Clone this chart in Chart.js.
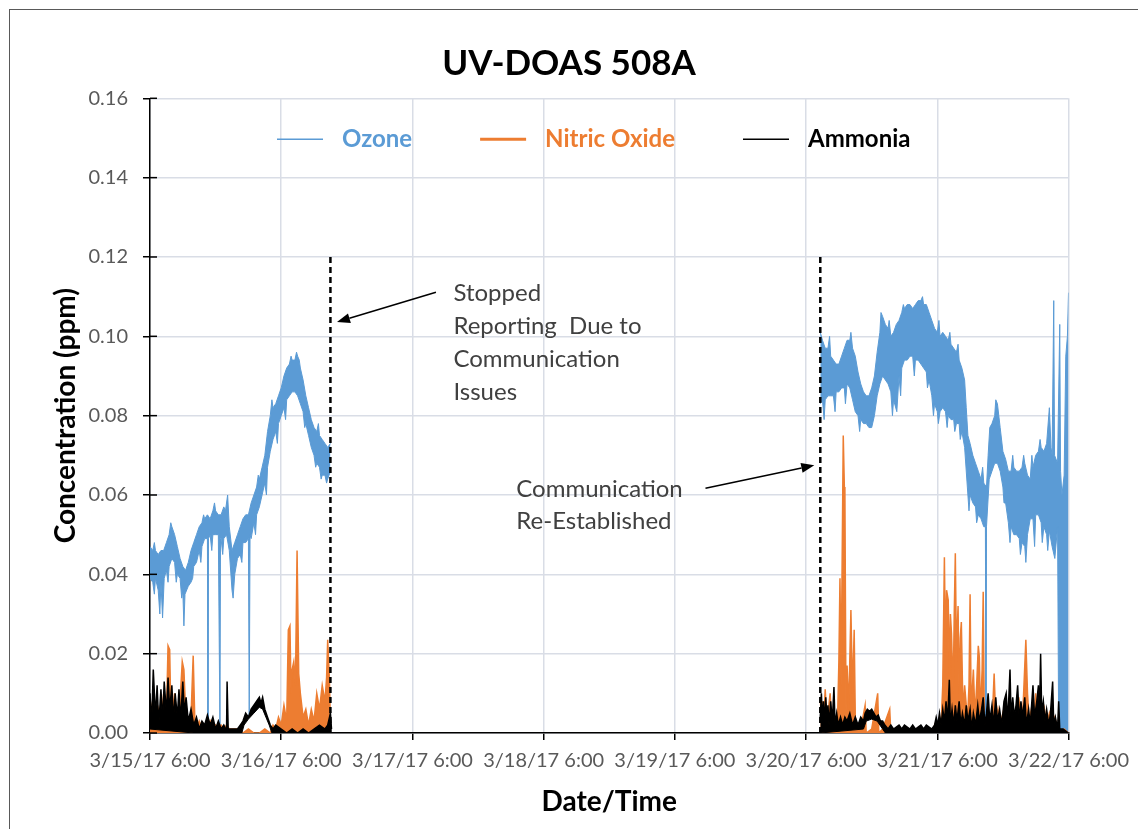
<!DOCTYPE html>
<html>
<head>
<meta charset="utf-8">
<title>UV-DOAS 508A</title>
<script src="https://cdn.jsdelivr.net/npm/chart.js@4.4.1/dist/chart.umd.min.js"></script>
<style>
  html, body { margin: 0; padding: 0; background: #fff; }
  #wrap { position: relative; width: 1138px; height: 829px; overflow: hidden; }
  #frame { position: absolute; left: 9px; top: 9px; width: 1200px; height: 900px;
           border-left: 1.5px solid #595959; border-top: 1.5px solid #595959; pointer-events: none; }
</style>
</head>
<body>
<div id="wrap">
  <canvas id="chart" width="1138" height="829"></canvas>
  <div id="frame"></div>
</div>
<script>
// hours after 3/15/17 6:00
const tickHours = [0, 24, 48, 72, 96, 120, 144, 168];
const tickLabels = ['3/15/17 6:00', '3/16/17 6:00', '3/17/17 6:00', '3/18/17 6:00',
                    '3/19/17 6:00', '3/20/17 6:00', '3/21/17 6:00', '3/22/17 6:00'];
const yTicks = [0, 0.02, 0.04, 0.06, 0.08, 0.10, 0.12, 0.14, 0.16];

// communication lost / back (hours) and top of the dashed markers (ppm)
const gapHours = [33.0, 122.6];
const gapTop = 0.1205;

const noteStopped = ['Stopped', 'Reporting  Due to', 'Communication', 'Issues'];
const noteResumed = ['Communication', 'Re-Established'];

// [hour, ppm]. Ozone is very noisy, so it is kept as the top and bottom of its band
const ozoneHigh1 = [[0,0.047],[0.5,0.046],[0.8,0.048],[1,0.046],[1.5,0.045],[2,0.046],[2.5,0.046],[3,0.048],[3.5,0.050],[3.8,0.053],
  [4,0.052],[4.5,0.050],[5,0.047],[5.5,0.044],[6,0.042],[6.5,0.041],[7,0.043],[7.5,0.046],[8,0.048],[8.5,0.050],[9,0.052],
  [9.5,0.053],[9.8,0.055],[10,0.054],[10.5,0.055],[11,0.054],[11.5,0.056],[11.8,0.058],[12,0.056],[12.5,0.055],[13,0.055],
  [13.5,0.057],[13.8,0.056],[14.2,0.060],[14.5,0.052],[15,0.046],[15.5,0.048],[16,0.050],[16.5,0.052],[17,0.054],[17.5,0.055],
  [18,0.055],[18.5,0.058],[19,0.060],[19.5,0.062],[19.8,0.065],[20,0.064],[20.5,0.067],[21,0.070],[21.5,0.076],[22,0.080],
  [22.3,0.084],[22.5,0.082],[23,0.083],[23.5,0.085],[24,0.087],[24.5,0.090],[25,0.092],[25.5,0.093],[25.8,0.095],[26,0.094],
  [26.5,0.094],[26.8,0.096],[27,0.095],[27.3,0.094],[27.5,0.092],[28,0.089],[28.5,0.085],[29,0.082],[29.5,0.079],[30,0.077],
  [30.5,0.076],[30.8,0.078],[31,0.075],[31.5,0.074],[32,0.073],[32.5,0.072],[33,0.073]];
const ozoneLow1 = [[0,0.039],[0.5,0.038],[0.8,0.035],[1,0.039],[1.5,0.036],[1.8,0.030],[2,0.038],[2.3,0.029],[2.6,0.039],[3,0.041],
  [3.3,0.038],[3.5,0.042],[4,0.044],[4.5,0.043],[4.8,0.038],[5,0.040],[5.5,0.039],[5.8,0.034],[6,0.036],[6.2,0.027],[6.4,0.035],
  [7,0.037],[7.5,0.038],[7.8,0.039],[8,0.042],[8.5,0.043],[9,0.046],[9.3,0.043],[9.5,0.047],[10,0.049],[10.5,0.049],
  [10.6,0.000],[10.7,0.049],[11,0.050],[11.3,0.046],[11.5,0.050],[12,0.050],[12.5,0.050],[12.8,0.000],[12.9,0.049],[13,0.049],
  [13.3,0.045],[13.5,0.049],[14,0.050],[14.5,0.046],[15,0.036],[15.2,0.034],[15.5,0.040],[16,0.044],[16.5,0.045],[16.8,0.043],
  [17,0.048],[17.5,0.048],[18,0.049],[18.15,0.004],[18.3,0.050],[18.5,0.049],[19,0.053],[19.3,0.050],[19.5,0.055],[20,0.057],
  [20.5,0.060],[21,0.063],[21.3,0.060],[21.5,0.067],[22,0.071],[22.5,0.074],[23,0.076],[23.3,0.073],[23.5,0.078],[24,0.080],
  [24.5,0.082],[24.8,0.079],[25,0.084],[25.5,0.085],[26,0.086],[26.5,0.086],[27,0.085],[27.5,0.083],[28,0.081],[28.3,0.077],
  [28.5,0.078],[29,0.075],[29.5,0.072],[30,0.070],[30.3,0.067],[30.5,0.068],[31,0.067],[31.3,0.064],[31.5,0.065],[32,0.065],
  [32.3,0.063],[32.5,0.064],[33,0.066]];
const ozoneHigh2 = [[122.6,0.101],[123,0.099],[123.5,0.097],[124,0.097],[124.3,0.100],[124.5,0.095],[125,0.094],[125.5,0.093],
  [126,0.093],[126.5,0.095],[127,0.097],[127.5,0.099],[128,0.099],[128.2,0.101],[128.5,0.097],[129,0.095],[129.5,0.091],
  [130,0.088],[130.5,0.086],[131,0.085],[131.5,0.085],[132,0.087],[132.5,0.090],[133,0.096],[133.5,0.101],[133.7,0.106],
  [134,0.105],[134.5,0.103],[135,0.102],[135.2,0.104],[135.5,0.100],[136,0.101],[136.5,0.103],[137,0.104],[137.5,0.106],
  [137.8,0.108],[138,0.107],[138.5,0.108],[139,0.108],[139.5,0.107],[140,0.108],[140.5,0.109],[141,0.109],[141.3,0.110],
  [141.5,0.108],[142,0.108],[142.5,0.106],[143,0.104],[143.5,0.102],[144,0.101],[144.3,0.104],[144.5,0.100],[145,0.101],
  [145.5,0.100],[146,0.099],[146.3,0.101],[146.5,0.098],[147,0.097],[147.5,0.096],[147.8,0.098],[148,0.094],[148.5,0.092],
  [149,0.089],[149.3,0.082],[149.6,0.075],[150,0.073],[150.5,0.070],[151,0.068],[151.5,0.066],[152,0.064],[152.3,0.067],
  [152.5,0.063],[153,0.062],[153.3,0.070],[153.6,0.077],[154,0.078],[154.5,0.080],[154.7,0.084],[155,0.083],[155.5,0.077],
  [156,0.071],[156.5,0.069],[157,0.066],[157.5,0.066],[157.8,0.070],[158,0.067],[158.5,0.066],[159,0.066],[159.5,0.067],
  [159.8,0.070],[160,0.068],[160.5,0.065],[161,0.064],[161.3,0.070],[161.5,0.067],[162,0.070],[162.5,0.071],[162.8,0.074],
  [163,0.072],[163.5,0.071],[164,0.073],[164.5,0.082],[164.8,0.072],[165,0.070],[165.3,0.109],[165.45,0.070],[166,0.068],
  [166.4,0.103],[166.55,0.066],[166.8,0.060],[167.2,0.065],[167.5,0.095],[167.8,0.100],[168,0.111]];
const ozoneLow2 = [[122.6,0.083],[123,0.084],[123.3,0.079],[123.5,0.084],[124,0.085],[124.5,0.085],[125,0.085],[125.3,0.081],
  [125.5,0.086],[126,0.086],[126.5,0.087],[127,0.087],[127.2,0.083],[127.5,0.088],[128,0.087],[128.5,0.084],[129,0.081],
  [129.5,0.080],[129.8,0.076],[130,0.079],[130.5,0.078],[131,0.078],[131.5,0.077],[132,0.077],[132.5,0.080],[133,0.085],
  [133.5,0.088],[134,0.090],[134.5,0.089],[135,0.088],[135.5,0.086],[135.8,0.080],[136,0.084],[136.6,0.081],[137,0.090],
  [137.3,0.085],[137.5,0.092],[138,0.094],[138.5,0.094],[139,0.095],[139.5,0.095],[139.8,0.090],[140,0.094],[140.5,0.094],
  [141,0.093],[141.5,0.092],[142,0.091],[142.2,0.087],[142.5,0.089],[143,0.085],[143.3,0.080],[143.5,0.083],[144,0.081],
  [144.2,0.078],[144.5,0.081],[145,0.082],[145.5,0.081],[145.8,0.077],[146,0.080],[146.5,0.079],[147,0.079],[147.2,0.076],
  [147.5,0.078],[148,0.078],[148.2,0.074],[148.5,0.076],[149,0.072],[149.5,0.062],[149.8,0.056],[150,0.060],[150.5,0.058],
  [151,0.057],[151.2,0.053],[151.5,0.055],[152,0.054],[152.5,0.052],[152.8,0.052],[152.9,0.002],[153.0,0.052],[153.5,0.064],
  [154,0.066],[154.5,0.068],[155,0.068],[155.5,0.066],[156,0.062],[156.2,0.058],[156.5,0.058],[157,0.053],[157.3,0.048],
  [157.5,0.052],[158,0.050],[158.5,0.050],[159,0.049],[159.2,0.045],[159.5,0.048],[160,0.047],[160.2,0.043],[160.5,0.050],
  [161,0.054],[161.5,0.054],[161.8,0.047],[162,0.055],[162.5,0.055],[163,0.053],[163.2,0.048],[163.5,0.052],[164,0.050],
  [164.2,0.046],[164.5,0.051],[165,0.047],[165.5,0.044],[166,0.052],[166.2,0.000],[168,0.000]];

const nitric1 = [[0,0.004],[0.5,0.008],[1,0.002],[1.5,0.006],[2,0.002],[2.5,0.010],[3,0.004],[3.3,0.022],[3.6,0.021],[3.8,0.006],
  [4,0.004],[4.5,0.010],[5,0.002],[5.5,0.008],[5.9,0.018],[6.2,0.016],[6.5,0.006],[7,0.002],[7.5,0.004],[7.9,0.0195],
  [8.2,0.003],[8.5,0.001],[9,0.003],[9.5,0.001],[10,0.002],[10.5,0.001],[11,0.003],[11.5,0.001],[12,0.002],[12.5,0.001],
  [13,0.002],[13.5,0.001],[14,0.002],[14.5,0.001],[15,0.001],[16,0.001],[17,0.000],[18,0.001],[19,0.000],[20,0.000],
  [21,0.001],[22,0.000],[22.5,0.002],[23,0.001],[23.5,0.004],[24,0.002],[24.5,0.007],[25,0.003],[25.3,0.026],[25.6,0.027],
  [25.8,0.010],[26,0.016],[26.3,0.018],[26.6,0.012],[26.9,0.046],[27.2,0.015],[27.5,0.010],[28,0.004],[28.5,0.006],[29,0.002],
  [29.5,0.006],[30,0.003],[30.5,0.010],[31,0.006],[31.5,0.012],[32,0.008],[32.3,0.014],[32.5,0.0235],[32.8,0.014],[33,0.002]];
const nitric2 = [[122.6,0.009],[122.8,0.003],[123.0,0.008],[123.2,0.002],[123.5,0.011],[123.8,0.003],[124.1,0.006],[124.4,0.010],
  [124.7,0.002],[125.0,0.004],[125.4,0.001],[125.8,0.006],[126.0,0.018],[126.2,0.039],[126.4,0.012],[126.8,0.075],[127.0,0.062],
  [127.1,0.061],[127.3,0.005],[127.5,0.017],[127.8,0.006],[128.2,0.031],[128.5,0.010],[128.8,0.026],[129.0,0.004],[129.3,0.002],
  [130.0,0.001],[130.8,0.007],[131.0,0.000],[132,0.001],[133.1,0.010],[133.3,0.000],[134,0.001],[135.3,0.006],[135.5,0.000],
  [137,0.001],[139,0.000],[141,0.001],[143,0.000],[143.8,0.003],[144.1,0.001],[144.4,0.004],[144.7,0.002],[145.0,0.012],
  [145.3,0.0443],[145.5,0.020],[145.7,0.036],[146.0,0.0335],[146.2,0.015],[146.4,0.030],[146.6,0.025],[146.9,0.010],[147.1,0.030],
  [147.3,0.0453],[147.5,0.020],[147.8,0.032],[148.0,0.008],[148.2,0.024],[148.4,0.028],[148.7,0.005],[149.0,0.012],[149.3,0.007],
  [149.5,0.002],[149.8,0.012],[150.0,0.035],[150.2,0.006],[150.6,0.016],[150.9,0.004],[151.2,0.012],[151.5,0.022],[151.7,0.019],
  [151.9,0.004],[152.2,0.016],[152.4,0.0356],[152.6,0.004],[152.9,0.003],[153.3,0.006],[153.7,0.002],[154.1,0.005],[154.4,0.015],
  [154.7,0.003],[155.1,0.006],[155.5,0.002],[156.0,0.005],[156.5,0.002],[157.0,0.006],[157.5,0.003],[158.0,0.005],[158.5,0.002],
  [158.9,0.009],[159.3,0.003],[159.7,0.007],[160.2,0.0235],[160.5,0.010],[160.8,0.003],[161.2,0.006],[161.6,0.002],[162.0,0.010],
  [162.4,0.003],[162.8,0.007],[163.2,0.002],[163.6,0.006],[164.0,0.002],[164.5,0.005],[165.0,0.002],[165.5,0.004],[166.0,0.001],
  [166.5,0.000],[167.2,0.001],[168,0.000]];

// ammonia: spiky top of the trace and its floor
const ammoniaHigh1 = [[0,0.010],[0.3,0.002],[0.6,0.016],[1,0.004],[1.3,0.012],[1.6,0.002],[2,0.011],[2.3,0.003],[2.6,0.013],[3,0.005],
  [3.3,0.014],[3.6,0.006],[4,0.012],[4.3,0.003],[4.6,0.010],[5,0.004],[5.3,0.011],[5.6,0.003],[6,0.013],[6.3,0.005],
  [6.6,0.009],[7,0.003],[7.5,0.006],[8,0.002],[8.5,0.004],[9,0.001],[9.5,0.003],[10,0.002],[10.5,0.0045],[11,0.002],
  [11.5,0.004],[12,0.001],[12.5,0.003],[13,0.001],[13.5,0.002],[14,0.0005],[14.1,0.013],[14.3,0.001],[15,0.001],[16,0.001],
  [16.5,0.002],[17,0.003],[17.5,0.005],[18,0.004],[18.5,0.006],[19,0.007],[19.5,0.008],[20,0.009],[20.3,0.0075],[20.6,0.009],
  [21,0.006],[21.5,0.004],[22,0.002],[22.5,0.001],[23,0.002],[24,0.001],[25,0.000],[26,0.001],[27,0.000],[28,0.001],
  [29,0.000],[30,0.001],[31,0.002],[32,0.001],[32.5,0.002],[33,0.005],[33.2,0.001]];
const ammoniaLow1 = [[0,0.001],[8,0.000],[16.8,0.000],[17.2,0.002],[18,0.0035],[19,0.005],[20,0.0065],[20.6,0.006],[21.2,0.004],
  [21.8,0.002],[22.3,0.000],[33.2,0.000]];
const ammoniaHigh2 = [[122.6,0.004],[122.8,0.010],[123.0,0.003],[123.2,0.008],[123.4,0.002],[123.6,0.009],[123.8,0.004],[124.0,0.007],
  [124.2,0.002],[124.5,0.008],[124.8,0.003],[125.1,0.0116],[125.3,0.002],[125.6,0.005],[125.9,0.002],[126.3,0.004],[126.7,0.002],
  [127.1,0.004],[127.5,0.003],[128,0.005],[128.5,0.002],[129,0.004],[129.5,0.002],[130,0.004],[130.5,0.003],[130.8,0.005],
  [131.2,0.006],[131.6,0.0055],[132,0.006],[132.4,0.005],[132.8,0.004],[133.2,0.0045],[133.6,0.003],[134,0.003],[134.4,0.002],
  [135,0.001],[135.5,0.002],[136,0.001],[137,0.002],[137.5,0.001],[138,0.002],[139,0.001],[139.5,0.002],[140,0.001],[141,0.002],
  [141.5,0.001],[142,0.002],[143,0.001],[143.5,0.002],[143.8,0.004],[144.1,0.002],[144.4,0.005],[144.7,0.002],[145,0.006],
  [145.3,0.003],[145.6,0.008],[145.9,0.003],[146.2,0.0134],[146.4,0.002],[146.7,0.006],[147,0.002],[147.3,0.007],[147.6,0.003],
  [148,0.008],[148.3,0.002],[148.6,0.005],[149,0.002],[149.3,0.007],[149.6,0.003],[150,0.006],[150.3,0.001],[150.6,0.005],
  [151,0.002],[151.4,0.007],[151.7,0.003],[152.1,0.006],[152.4,0.009],[152.7,0.002],[153,0.005],[153.3,0.010],[153.6,0.003],
  [154,0.007],[154.3,0.002],[154.7,0.009],[155,0.003],[155.4,0.006],[155.8,0.002],[156.2,0.008],[156.6,0.010],[156.9,0.003],
  [157.3,0.016],[157.5,0.004],[157.8,0.009],[158.1,0.004],[158.4,0.007],[158.7,0.012],[159,0.003],[159.3,0.008],[159.6,0.004],
  [160,0.009],[160.3,0.002],[160.7,0.006],[161,0.002],[161.5,0.012],[161.8,0.004],[162.2,0.008],[162.5,0.012],[162.7,0.004],
  [162.9,0.020],[163.1,0.005],[163.4,0.008],[163.7,0.003],[164,0.006],[164.4,0.002],[164.7,0.005],[165.1,0.013],[165.3,0.002],
  [165.6,0.004],[166,0.001],[166.2,0.008],[166.4,0.001],[167,0.001],[168,0.000]];
const ammoniaLow2 = [[122.6,0.000],[130.5,0.001],[131,0.003],[132,0.0035],[133,0.003],[134,0.001],[134.5,0.000],[168,0.000]];

function joinSegments(a, b) {
  const pts = s => s.map(p => ({x: p[0], y: p[1]}));
  return pts(a).concat([{x: gapHours[0] + 1, y: null}], pts(b));
}

function arrow(ctx, x0, y0, x1, y1) {
  const ang = Math.atan2(y1 - y0, x1 - x0), len = 13, half = 5;
  const bx = x1 - len * Math.cos(ang), by = y1 - len * Math.sin(ang);
  ctx.beginPath(); ctx.moveTo(x0, y0); ctx.lineTo(bx, by); ctx.stroke();
  ctx.beginPath();
  ctx.moveTo(x1, y1);
  ctx.lineTo(bx + half * Math.sin(ang), by - half * Math.cos(ang));
  ctx.lineTo(bx - half * Math.sin(ang), by + half * Math.cos(ang));
  ctx.closePath(); ctx.fill();
}

const overlay = {
  id: 'overlay',
  afterDraw(chart) {
    const {ctx, chartArea: a, scales: {x, y}} = chart;
    ctx.save();
    ctx.strokeStyle = '#000';
    ctx.fillStyle = '#000';
    ctx.lineWidth = 1.5;
    // inner half of the y tick marks
    yTicks.forEach(v => {
      const py = y.getPixelForValue(v);
      ctx.beginPath(); ctx.moveTo(a.left, py); ctx.lineTo(a.left + 7, py); ctx.stroke();
    });
    // dashed markers
    ctx.setLineDash([6, 4]);
    ctx.lineWidth = 2.5;
    gapHours.forEach(h => {
      const px = x.getPixelForValue(h);
      ctx.beginPath(); ctx.moveTo(px, y.getPixelForValue(0)); ctx.lineTo(px, y.getPixelForValue(gapTop)); ctx.stroke();
    });
    ctx.setLineDash([]);
    ctx.lineWidth = 1.5;
    arrow(ctx, x.getPixelForValue(52.3), y.getPixelForValue(0.1111), x.getPixelForValue(34.2), y.getPixelForValue(0.1036));
    arrow(ctx, x.getPixelForValue(101.6), y.getPixelForValue(0.0617), x.getPixelForValue(121.5), y.getPixelForValue(0.0675));

    // notes
    ctx.font = '24px Lato';
    ctx.fillStyle = '#404040';
    ctx.textAlign = 'left';
    ctx.textBaseline = 'middle';
    noteStopped.forEach((t, i) => ctx.fillText(t, x.getPixelForValue(55.5), y.getPixelForValue(0.1109) + i * 33));
    noteResumed.forEach((t, i) => ctx.fillText(t, x.getPixelForValue(67.0), y.getPixelForValue(0.0615) + i * 32));

    // legend inside the plot, one entry per series
    ctx.font = 'bold 24px Lato';
    let lx = a.left + 127;
    const ly = a.top + 41;
    chart.data.datasets.filter(ds => ds.label).forEach(ds => {
      ctx.strokeStyle = ds.borderColor;
      ctx.lineWidth = ds.label === 'Nitric Oxide' ? 3 : 1.5;
      ctx.beginPath(); ctx.moveTo(lx, ly); ctx.lineTo(lx + 46, ly); ctx.stroke();
      ctx.fillStyle = ds.borderColor;
      ctx.fillText(ds.label, lx + 65, ly);
      lx += 65 + ctx.measureText(ds.label).width + 68;
    });
    ctx.restore();
  }
};

Chart.defaults.font.family = 'Lato';

const blue = '#5b9bd5', orange = '#ed7d31', black = '#000000';
const ctx = document.getElementById('chart').getContext('2d');
new Chart(ctx, {
  type: 'line',
  data: {
    datasets: [
      {label: 'Ozone', data: joinSegments(ozoneHigh1, ozoneHigh2), borderColor: blue, backgroundColor: blue, borderWidth: 1, fill: false, order: 5},
      {label: '', data: joinSegments(ozoneLow1, ozoneLow2), borderColor: blue, backgroundColor: blue, borderWidth: 1, fill: '-1', order: 4},
      {label: 'Nitric Oxide', data: joinSegments(nitric1, nitric2), borderColor: orange, backgroundColor: orange, borderWidth: 1.5, fill: 'origin', order: 3},
      {label: 'Ammonia', data: joinSegments(ammoniaHigh1, ammoniaHigh2), borderColor: black, backgroundColor: black, borderWidth: 1.5, fill: false, order: 2},
      {label: '', data: joinSegments(ammoniaLow1, ammoniaLow2), borderColor: black, backgroundColor: black, borderWidth: 1, fill: '-1', order: 1}
    ]
  },
  options: {
    responsive: false,
    animation: false,
    spanGaps: false,
    elements: {point: {radius: 0}, line: {tension: 0}},
    layout: {padding: 0},
    plugins: {
      legend: {display: false},
      tooltip: {enabled: false},
      title: {
        display: true,
        text: 'UV-DOAS 508A',
        color: '#000',
        font: {size: 35, weight: 'bold'},
        padding: {top: 43, bottom: 13.3}
      }
    },
    scales: {
      x: {
        type: 'linear',
        min: 0,
        max: 168,
        afterBuildTicks: s => { s.ticks = tickHours.map(v => ({value: v})); },
        afterFit: s => { s.height = 96; },
        ticks: {
          autoSkip: false, maxRotation: 0, padding: 9, color: '#595959', font: {size: 20},
          callback: v => tickLabels[tickHours.indexOf(v)]
        },
        grid: {color: '#d9dde6', lineWidth: 1.5, tickColor: '#000', tickLength: 7},
        border: {color: '#000', width: 1.5},
        title: {display: true, text: 'Date/Time', color: '#000', font: {size: 28, weight: 'bold'}, padding: {top: 10, bottom: 10}}
      },
      y: {
        min: 0,
        max: 0.16,
        afterBuildTicks: s => { s.ticks = yTicks.map(v => ({value: v})); },
        afterFit: s => { s.width = 150; },
        ticks: {padding: 15, color: '#595959', font: {size: 20}, callback: v => v.toFixed(2)},
        grid: {color: '#d9dde6', lineWidth: 1.5, tickColor: '#000', tickLength: 7},
        border: {color: '#000', width: 1.5},
        title: {display: true, text: 'Concentration (ppm)', color: '#000', font: {size: 28, weight: 'bold'}, padding: {top: 49, bottom: 0}}
      },
      // empty strip on the right so the plot ends where the original does
      spacer: {
        position: 'right',
        afterFit: s => { s.width = 66; },
        ticks: {display: false},
        grid: {display: false},
        border: {display: false}
      }
    }
  },
  plugins: [overlay]
});
</script>
</body>
</html>
